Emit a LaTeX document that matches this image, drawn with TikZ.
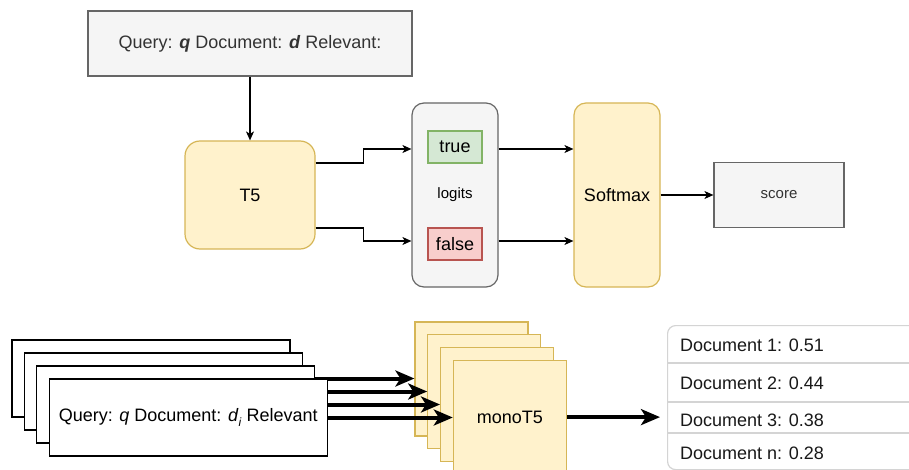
\documentclass[tikz,border=0pt]{standalone}
\usepackage{fontspec}
\setmainfont{Liberation Sans}
\usetikzlibrary{arrows.meta,calc}
\definecolor{yfill}{HTML}{FFF2CC}
\definecolor{ydraw}{HTML}{D6B656}
\definecolor{gfill}{HTML}{F5F5F5}
\definecolor{gdraw}{HTML}{666666}
\definecolor{gtext}{HTML}{333333}
\definecolor{grfill}{HTML}{D5E8D4}
\definecolor{grdraw}{HTML}{82B366}
\definecolor{rfill}{HTML}{F8CECC}
\definecolor{rdraw}{HTML}{B85450}
\definecolor{ldraw}{HTML}{D4D4D4}
\tikzset{
  base/.style={rectangle, line width=1.2pt, inner sep=0pt, font=\fontsize{18}{21}\selectfont},
  greybox/.style={base, fill=gfill, draw=gdraw, text=gtext},
  yellowbox/.style={base, fill=yfill, draw=ydraw},
  inbox/.style={base, fill=white, draw=black, minimum width=278pt, minimum height=77pt},
  monobox/.style={base, fill=yfill, draw=ydraw, minimum width=113pt, minimum height=114pt},
  thinarr/.style={line width=1.2pt, -{Stealth[length=9pt,width=8pt,inset=2.5pt]}},
  thickarr/.style={line width=4pt, -{Stealth[length=19pt,width=16pt,inset=5pt]}},
  doctext/.style={anchor=west, inner sep=0pt, text=black!90, font=\fontsize{18}{21}\selectfont},
}
\begin{document}
\begin{tikzpicture}[x=1pt,y=-1pt]
\useasboundingbox (0,0) rectangle (909,470);
\clip (0,0) rectangle (909,470);
% top part
\node[greybox, minimum width=324pt, minimum height=65pt] (prompt) at (250,43.5)
  {Query: \textbf{\textit{q}} Document: \textbf{\textit{d}} Relevant:};
\node[yellowbox, rounded corners=15pt, minimum width=130pt, minimum height=108pt] (t5) at (250,195) {T5};
\node[greybox, text=black, rounded corners=12pt, minimum width=86pt, minimum height=184pt] (logits) at (455,195)
  {\fontsize{15}{18}\selectfont logits};
\node[base, fill=grfill, draw=grdraw, minimum width=54pt, minimum height=32pt] (true) at (455,147) {true};
\node[base, fill=rfill, draw=rdraw, minimum width=54pt, minimum height=32pt] (false) at (455,244) {false};
\node[yellowbox, rounded corners=12pt, minimum width=86pt, minimum height=184pt] (softmax) at (617,195) {Softmax};
\node[greybox, minimum width=130pt, minimum height=65pt, font=\fontsize{15}{18}\selectfont] (score) at (779,195) {score};

\draw[thinarr] (prompt.south) -- (t5.north);
\draw[thinarr] ([yshift=32pt]t5.east) -- ++(48,0) |- ([yshift=-2pt]logits.west |- true.east);
\draw[thinarr] ([yshift=-33pt]t5.east) -- ++(48,0) |- ([yshift=3pt]logits.west |- false.east);
\draw[thinarr] ([yshift=-2pt]logits.east |- true.east) -- ([yshift=-2pt]softmax.west |- true.east);
\draw[thinarr] ([yshift=3pt]logits.east |- false.east) -- ([yshift=3pt]softmax.west |- false.east);
\draw[thinarr] (softmax.east) -- (score.west);

% bottom part
\foreach \k in {1,...,4}{
  \node[monobox] (m\k) at ({471.5+12.8*(\k-1)},{379+12.7*(\k-1)}) {};
}
\node[base] at (m4) {monoT5};
\foreach \k in {1,...,4}{
  \coordinate (ie\k) at ({290+12.4*(\k-1)},{378.5+13*(\k-1)});
}
\foreach \k in {1,...,4}{
  \draw[thickarr] (ie\k) -- (m\k.west |- ie\k);
}
\foreach \k in {1,...,4}{
  \node[inbox] (in\k) at ({151+12.4*(\k-1)},{378.5+13*(\k-1)}) {};
}
\node[base] at (in4) {Query: \textit{q} Document: \textit{d}\raisebox{-0.45ex}{\fontsize{12}{12}\selectfont\textit{i}} Relevant};

% ranked list
\node[rectangle, draw=ldraw, line width=1.2pt, fill=white, rounded corners=8pt, anchor=north west,
  minimum width=290pt, minimum height=144pt, inner sep=0pt] (list) at (667,325) {};
\draw[ldraw, line width=1.2pt] (list.west |- 0,363) -- ++(260,0);
\draw[ldraw, line width=1.2pt] (list.west |- 0,402) -- ++(260,0);
\draw[ldraw, line width=1.2pt] (list.west |- 0,433) -- ++(260,0);
\node[doctext] (d1) at (680,345) {Document 1: 0.51};
\node[doctext] (d2) at (680,383) {Document 2: 0.44};
\node[doctext] (d3) at (680,420) {Document 3: 0.38};
\node[doctext] (dn) at (680,453) {Document n: 0.28};
\draw[thickarr, shorten >=7pt] (m4.east) -- (list.west |- m4.east);
\end{tikzpicture}
\end{document}
